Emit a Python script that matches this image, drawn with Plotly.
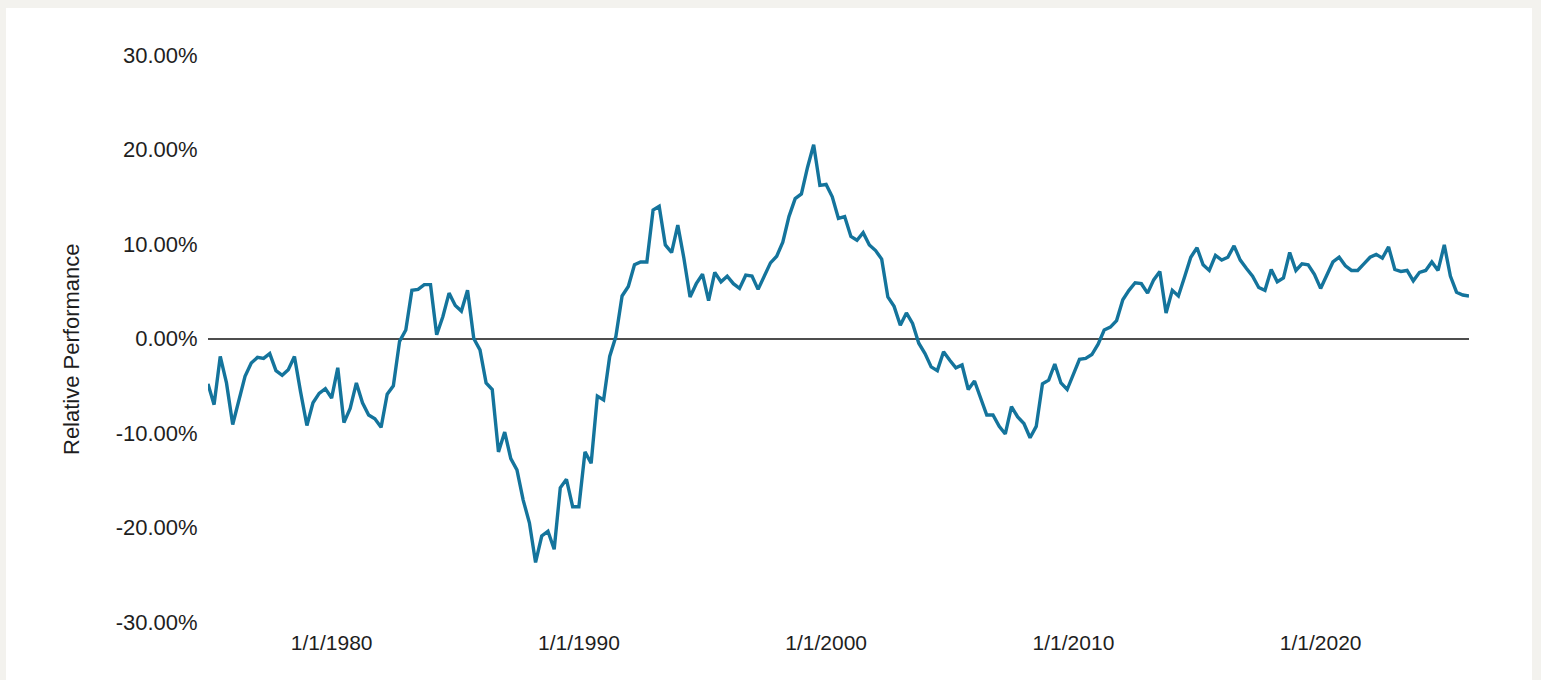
import pandas as pd
import plotly.graph_objects as go

# ---- data (quarterly, relative performance in %) ----
start_date = "1974-12-31"
n_quarters = 205
rel_perf_pct = [
    -4.8, -7.0, -1.9, -4.7, -9.1, -6.7, -4.0, -2.6, -2.0, -2.1,
    -1.6, -3.4, -3.9, -3.3, -1.9, -5.7, -9.2, -6.8, -5.8, -5.3,
    -6.3, -3.1, -8.9, -7.4, -4.7, -6.8, -8.1, -8.5, -9.4, -5.9,
    -5.0, -0.3, 0.9, 5.1, 5.2, 5.7, 5.7, 0.4, 2.3, 4.8,
    3.5, 2.9, 5.1, 0.0, -1.2, -4.7, -5.4, -12.0, -9.9, -12.7,
    -13.9, -17.1, -19.5, -23.7, -20.9, -20.4, -22.3, -15.8, -14.9, -17.8,
    -17.8, -12.0, -13.2, -6.1, -6.5, -1.9, 0.2, 4.5, 5.5, 7.8,
    8.1, 8.1, 13.6, 14.0, 9.9, 9.1, 12.0, 8.5, 4.4, 5.8,
    6.8, 4.0, 7.0, 6.0, 6.6, 5.8, 5.3, 6.7, 6.6, 5.2,
    6.5, 8.0, 8.7, 10.2, 12.9, 14.8, 15.3, 18.1, 20.5, 16.2,
    16.3, 15.0, 12.7, 12.9, 10.8, 10.4, 11.2, 9.9, 9.3, 8.4,
    4.4, 3.4, 1.4, 2.7, 1.6, -0.5, -1.6, -3.0, -3.4, -1.4,
    -2.3, -3.1, -2.8, -5.4, -4.5, -6.3, -8.1, -8.1, -9.3, -10.1,
    -7.2, -8.3, -9.0, -10.5, -9.3, -4.8, -4.4, -2.7, -4.7, -5.4,
    -3.7, -2.2, -2.1, -1.7, -0.6, 0.9, 1.2, 1.9, 4.1, 5.1,
    5.9, 5.8, 4.8, 6.2, 7.1, 2.7, 5.1, 4.5, 6.5, 8.6,
    9.6, 7.8, 7.2, 8.8, 8.3, 8.6, 9.8, 8.3, 7.4, 6.6,
    5.4, 5.1, 7.3, 6.0, 6.4, 9.1, 7.2, 7.9, 7.8, 6.8,
    5.3, 6.7, 8.1, 8.6, 7.7, 7.2, 7.2, 7.9, 8.6, 8.9,
    8.5, 9.7, 7.3, 7.1, 7.2, 6.1, 7.0, 7.2, 8.1, 7.2,
    9.9, 6.6, 4.9, 4.6, 4.5,
]
x_tick_dates = ["1980-01-01", "1990-01-01", "2000-01-01", "2010-01-01", "2020-01-01"]
x_tick_labels = ["1/1/1980", "1/1/1990", "1/1/2000", "1/1/2010", "1/1/2020"]
y_tick_values = [-0.3, -0.2, -0.1, 0.0, 0.1, 0.2, 0.3]
y_tick_labels = ["-30.00%", "-20.00%", "-10.00%", "0.00%", "10.00%", "20.00%", "30.00%"]
y_title = "Relative Performance"

dates = pd.date_range(start_date, periods=n_quarters, freq="QE")
y_vals = [v / 100.0 for v in rel_perf_pct]

# ---- layout geometry (pixels) ----
W, H = 1541, 680
ml, mr, mt, mb = 208, 72, 55, 58
pw, ph = W - ml - mr, H - mt - mb
panel = dict(x0=6, x1=1532, y0=8, y1=H)
title_px = (71, 349)

def px_x(p):
    return (p - ml) / pw

def px_y(p):
    return (H - mb - p) / ph

FONT = "Liberation Sans, Arial, Helvetica, sans-serif"
TXT = "#1e1e1e"

fig = go.Figure()
fig.add_trace(go.Scatter(
    x=dates, y=y_vals, mode="lines",
    line=dict(color="#14749c", width=3.4),
    hoverinfo="x+y", showlegend=False,
))

fig.add_shape(
    type="rect", xref="paper", yref="paper", layer="below",
    x0=px_x(panel["x0"]), x1=px_x(panel["x1"]),
    y0=px_y(panel["y1"]), y1=px_y(panel["y0"]),
    fillcolor="white", line=dict(width=0),
)

fig.add_annotation(
    text=y_title, xref="paper", yref="paper",
    x=px_x(title_px[0]), y=px_y(title_px[1]),
    xanchor="center", yanchor="middle", textangle=-90,
    showarrow=False, font=dict(family=FONT, size=22, color=TXT),
)

fig.update_layout(
    width=W, height=H,
    margin=dict(l=ml, r=mr, t=mt, b=mb, pad=0),
    paper_bgcolor="#f3f2ee",
    plot_bgcolor="white",
    font=dict(family=FONT, size=22, color=TXT),
    xaxis=dict(
        range=[dates[0], dates[-1]],
        tickvals=x_tick_dates, ticktext=x_tick_labels,
        showgrid=False, zeroline=False, showline=False,
        ticks="outside", ticklen=2, tickcolor="rgba(0,0,0,0)",
        tickfont=dict(size=21, color=TXT),
        fixedrange=True,
    ),
    yaxis=dict(
        range=[-0.3, 0.3],
        tickvals=y_tick_values, ticktext=y_tick_labels,
        showgrid=False, showline=False,
        zeroline=True, zerolinecolor="#4d4d4d", zerolinewidth=1.6,
        ticks="outside", ticklen=5, tickcolor="rgba(0,0,0,0)",
        tickfont=dict(size=22, color=TXT),
        automargin=False,
        fixedrange=True,
    ),
)

fig.write_html(
    "out.html",
    config={"displayModeBar": False},
    post_script="document.body.style.margin='0';document.body.style.background='#f3f2ee';document.body.style.overflow='hidden';",
)
